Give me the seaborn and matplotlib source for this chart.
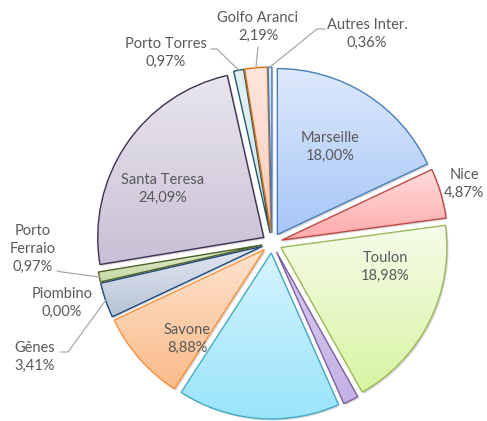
"""
Répartition du trafic par port (camembert éclaté, style Excel avec dégradés).
"""

import matplotlib

matplotlib.use("Agg")
import matplotlib.patches as mpatches
import matplotlib.pyplot as plt
import numpy as np
import seaborn as sns
from matplotlib.colors import to_rgb

# ── Données ──────────────────────────────────────────────
ports = [
    "Marseille", "Nice", "Toulon", "", "", "Savone", "Gênes", "Piombino",
    "Porto\nFerraio", "Santa Teresa", "Porto Torres", "Golfo Aranci",
    "Autres Inter.",
]
parts = [18.00, 4.87, 18.98, 1.50, 15.78, 8.88, 3.41, 0.00,
         0.97, 24.09, 0.97, 2.19, 0.36]

# ── Style ────────────────────────────────────────────────
top_colors = ["#dde9fc", "#ffdcdc", "#f6fbe9", "#d8ccef", "#d6f4fd", "#fde3cf",
              "#e3e8f1", "#e3e8f1", "#e1ebcd", "#e9e6ee", "#e3f1f5", "#fee6dc",
              "#d9e6f7"]
bottom_colors = ["#a7c6f7", "#ffa9a9", "#d7f5a3", "#c3b1e4", "#98e4fa", "#fbbb88",
                 "#b6c3d6", "#b6c3d6", "#c6d9a6", "#c8c0d5", "#cde5ec", "#fcccbf",
                 "#b9d0ef"]
edge_colors = ["#4a7ebb", "#be4b48", "#98b954", "#7d60a0", "#46aac5", "#f69240",
               "#1f497d", "#1f497d", "#4f6228", "#3f3151", "#215968", "#e46c0a",
               "#4a7ebb"]
TEXT = "#595959"

# Mise en page en pixels (image 487 x 421, centre du camembert, rayon)
W, H = 487, 421
CX, CY, S = 272, 243, 166
EXPLODE = 0.06

# Position des étiquettes (centre du bloc de texte, en pixels)
label_px = {
    0: (330, 147), 1: (464, 184), 2: (385, 267), 5: (187, 339),
    6: (35, 357), 7: (62, 303), 8: (33, 249), 9: (163, 189),
    10: (166, 53), 11: (258, 27), 12: (367, 34),
}
# Lignes de rappel : points de départ côté texte (pixels), l'arrivée est sur l'arc
leader_px = {
    6: [(61, 352), (68, 352)],
    8: [(57, 271), (62, 272)],
    10: [(211, 49), (217, 49)],
    11: [(258, 47)],
    12: [(325, 29), (317, 29)],
}


def to_data(px, py):
    return (px - CX) / S, (CY - py) / S


sns.set_theme(style="white")
plt.rcParams["font.family"] = ["Lato", "DejaVu Sans"]

fig = plt.figure(figsize=(W / 100, H / 100), dpi=100)
ax = fig.add_axes([0, 0, 1, 1])

wedges, _ = ax.pie(
    parts,
    startangle=90,
    counterclock=False,
    explode=[EXPLODE] * len(parts),
    radius=1.0,
    wedgeprops={"linewidth": 1.0},
)

for i, w in enumerate(wedges):
    w.set_facecolor("none")
    w.set_edgecolor(edge_colors[i])
    w.set_zorder(3)
    if parts[i] == 0:
        w.set_linewidth(0)
        continue

    # Ombre portée légère
    sh = mpatches.Wedge(
        (w.center[0] + 1.6 / S, w.center[1] - 1.6 / S), w.r, w.theta1, w.theta2,
        facecolor="#c8c8c8", edgecolor="none", alpha=0.7, zorder=0,
    )
    ax.add_patch(sh)

    # Dégradé vertical découpé sur la part
    verts = w.get_path().vertices
    x0, x1 = verts[:, 0].min(), verts[:, 0].max()
    y0, y1 = verts[:, 1].min(), verts[:, 1].max()
    t = np.linspace(0, 1, 256)[:, None]
    grad = (1 - t) * np.array(to_rgb(top_colors[i])) + t * np.array(
        to_rgb(bottom_colors[i])
    )
    im = ax.imshow(
        grad[:, None, :], extent=(x0, x1, y0, y1), origin="upper",
        aspect="auto", interpolation="bilinear", zorder=2,
    )
    im.set_clip_path(w)

# Étiquettes et lignes de rappel
for i, (px, py) in label_px.items():
    val = f"{parts[i]:.2f}".replace(".", ",") + "%"
    x, y = to_data(px, py)
    ax.text(x, y, f"{ports[i]}\n{val}", ha="center", va="center",
            fontsize=10.5, color=TEXT, linespacing=1.35, zorder=5)

for i, pts in leader_px.items():
    w = wedges[i]
    mid = np.deg2rad((w.theta1 + w.theta2) / 2)
    ax_ = w.center[0] + w.r * np.cos(mid)
    ay_ = w.center[1] + w.r * np.sin(mid)
    xs = [to_data(*p)[0] for p in pts] + [ax_]
    ys = [to_data(*p)[1] for p in pts] + [ay_]
    ax.plot(xs, ys, color="#a6a6a6", lw=0.9, zorder=4)

ax.set_xlim(-CX / S, (W - CX) / S)
ax.set_ylim(-(H - CY) / S, CY / S)
ax.set_aspect("auto")
ax.axis("off")

plt.savefig("out.png", dpi=100)
